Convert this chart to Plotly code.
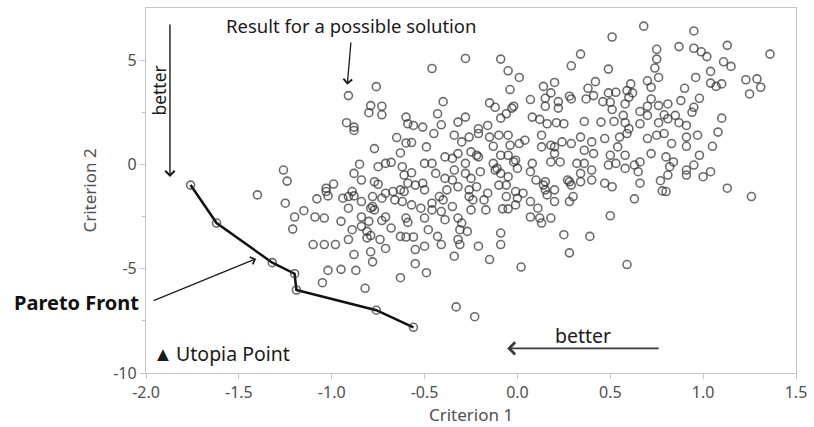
import plotly.graph_objects as go

# Candidate solutions: (criterion 1, criterion 2)
crit1 = [
    -0.91, -0.76, -0.79, -0.73, -0.80, -0.73, -0.92, -0.88, -0.60, -0.59, -0.56,
    -0.46, -0.28, -0.09, -0.05, 0.01, 0.34, 0.29, -0.04, 0.14, 0.20, -0.40, -0.43, -0.28, -0.32,
    -0.15, -0.12, -0.09, -0.06, -0.03, -0.02, 0.07, 0.15, 0.15, 0.18, 0.22, 0.22, 0.28, 0.29,
    0.38, 0.42, 0.41, 0.37, 0.08, 0.12, 0.16, 0.21, 0.25, 0.36, -0.41, -0.51, -0.16, -0.21,
    0.68, 0.51, 0.95, 0.87, 0.95, 0.99, 1.02, 1.13, 1.36, 0.75, 0.75, 0.74, 0.49, 0.76, 0.70,
    0.72, 0.61, 0.59, 0.62, 0.49, 0.53, 0.46, 0.50, 0.51, 0.58, 0.60, 0.72, 0.70, 0.76,
    0.81, 0.88, 0.90, 0.96, 1.04, 1.04, 1.07, 1.10, 1.11, 1.15, 1.23, 1.29, 1.31, 1.25, 0.98,
    0.95, 0.94, 1.10, 0.85, 0.81, 0.87, 0.91, 0.76, 0.79, 0.66, 0.70, 0.66, 0.57, 0.58, 0.52,
    0.45, 0.60,
    -0.88, -0.65, -0.60, -0.57, -0.77, -0.63, -1.26, -1.24, -1.40, -1.25, -0.85, -0.88, -0.75,
    -0.71, -0.68, -0.62, -0.57, -0.61, -0.84, -0.77, -0.75, -0.99, -1.03, -1.03, -1.08, -1.02,
    -0.94, -0.91, -0.89, -0.88, -0.91, -0.84, -0.78, -0.77, -0.78, -0.73, -0.71, -0.67, -0.63,
    -0.66, -0.62, -0.57, -0.59, -0.55, -1.15, -1.20, -1.09, -1.04, -0.95, -1.21, -0.84, -0.80,
    -0.73, -0.71, -0.68, -0.60, -0.59, -0.89, -0.84, -0.81, -0.79, -0.81, -0.91, -0.74, -0.63,
    -0.60, -0.56, -1.10, -1.04, -0.98,
    -0.49, -0.45, -0.34, -0.30, -0.26, -0.21, -0.15, -0.10, -0.05, -0.13, -0.04, 0.04, 0.01,
    0.13, 0.13, 0.18, 0.24, 0.29, 0.34, 0.40, 0.36, 0.41, -0.50, -0.46, -0.44, -0.39, -0.35,
    -0.32, -0.25, -0.21, -0.28, -0.34, -0.39, -0.51, -0.50, -0.35, -0.32, -0.38, -0.40, -0.25,
    -0.20, -0.22, -0.26, -0.24, -0.18, -0.17, -0.25, -0.13, -0.12, -0.09, -0.05, -0.01, 0.00,
    -0.09, -0.05, -0.10, -0.06, -0.01, 0.03, 0.00, -0.01, -0.08, -0.05, 0.08, 0.07, 0.10, 0.15,
    0.15, 0.20, 0.16, 0.20, 0.11, 0.07, 0.12, 0.18, 0.13, 0.20, 0.23, 0.18, 0.27, 0.29, 0.28,
    0.30, 0.34, 0.34, 0.32, 0.36, 0.40, 0.40, 0.25, 0.39, -0.09, -0.48, -0.43, -0.32, -0.30,
    -0.31, -0.27, -0.32, -0.50, -0.46, -0.41, -0.39, -0.52, -0.46,
    -0.22, -0.28, -0.11, -0.02, 0.20, 0.28, 0.14, -0.26, -0.16, -0.42, -0.35, -0.06, 0.07,
    -0.61, -0.79,
    0.47, 0.55, 0.59, 0.70, 0.75, 0.79, 0.83, 0.91, 0.97, 0.91, 1.05, 1.08, 0.54, 0.50, 0.58,
    0.49, 0.53, 0.58, 0.63, 0.66, 0.65, 0.72, 0.80, 0.82, 0.84, 0.81, 0.77, 0.66, 0.78, 0.80,
    0.91, 0.91, 0.95, 0.98, 1.00, 1.04, 0.47, 0.51, 0.63, 0.50, 1.13, 1.26,
    -0.88, -0.79, -0.78, -0.71, -1.02, -0.95, -0.87, -1.05, -0.82, -0.63, -0.55, -0.55,
    -0.50, -0.41, -0.31, -0.21, -0.09, -0.34, -0.15, 0.02, 0.28, -0.49, -0.33, -0.23, 0.59,
]
crit2 = [
    3.30, 3.73, 2.82, 2.79, 2.48, 2.38, 2.00, 1.79, 2.27, 1.95, 1.87,
    4.60, 5.08, 5.05, 4.49, 4.17, 5.29, 4.73, 3.59, 3.74, 3.93, 3.01, 2.43, 2.27, 2.03,
    2.95, 2.74, 2.22, 2.43, 2.70, 2.79, 3.11, 3.17, 2.79, 3.43, 3.01, 2.70, 3.27, 3.14,
    3.65, 3.97, 3.30, 3.14, 2.27, 2.16, 1.95, 2.00, 1.95, 2.06, 1.90, 1.79, 1.87, 1.71,
    6.63, 6.11, 6.40, 5.65, 5.57, 5.40, 5.17, 5.71, 5.29, 5.52, 5.05, 4.62, 4.57, 4.17, 4.01,
    3.70, 3.86, 3.54, 3.43, 3.43, 3.46, 3.01, 2.98, 2.63, 2.90, 3.22, 3.14, 2.79, 2.82,
    2.90, 3.06, 3.65, 4.17, 4.46, 3.90, 3.74, 3.86, 4.92, 4.70, 4.06, 4.10, 3.70, 3.38, 3.17,
    2.74, 2.50, 2.22, 2.35, 2.19, 2.00, 1.87, 2.00, 2.38, 2.54, 2.35, 1.95, 2.35, 2.00, 2.06,
    2.03, 1.71,
    1.63, 1.29, 1.03, 1.05, 0.76, 0.55, -0.27, -0.80, -1.46, -1.86, 0.01, -0.43, -0.11,
    0.05, 0.10, -0.11, -0.40, -0.51, -0.75, -0.83, -0.95, -0.94, -1.14, -1.30, -1.65, -1.51,
    -1.62, -1.54, -1.30, -1.51, -2.10, -1.78, -2.02, -2.18, -1.54, -1.62, -1.38, -1.30, -1.22,
    -1.70, -1.78, -1.94, -0.90, -0.99, -2.22, -2.52, -2.52, -2.57, -2.73, -3.10, -2.52, -2.73,
    -2.69, -2.52, -3.05, -2.57, -2.78, -3.13, -2.97, -3.21, -3.41, -3.52, -3.60, -3.60, -3.45,
    -3.48, -3.48, -3.84, -3.84, -3.84,
    0.84, 1.48, 1.40, 1.08, 1.31, 1.48, 1.31, 1.40, 1.40, 0.87, 0.92, 1.16, 1.00,
    1.40, 0.84, 0.92, 1.08, 1.00, 1.31, 1.08, 0.68, 0.52, 0.05, 0.05, -0.43, 0.36, 0.29,
    0.52, 0.60, 0.36, 0.05, -0.27, -0.67, -0.90, -1.22, -0.75, -1.07, -1.22, -1.70, -0.67,
    -0.35, -1.07, -1.54, -1.70, -1.70, -2.18, -2.18, 0.05, -0.27, 0.44, 0.44, 0.20, -0.19,
    -0.43, -0.59, -0.99, -0.99, -1.30, -1.38, -1.62, -1.94, -2.13, -2.13, 0.05, -0.35, -0.75, -0.83,
    -1.22, -1.22, -1.46, -1.78, -2.10, -2.52, -2.57, -2.57, -2.81, 0.52, 0.12, 0.12, -0.75, -0.99, -1.78,
    -1.54, -0.83, -0.43, 0.05, 0.05, -0.27, -0.75, -3.37, -3.45, -3.29, -3.13, -3.45, -2.57, -2.81,
    -3.13, -3.21, -3.60, -2.57, -2.18, -2.26, -2.65, -2.10, -1.86,
    0.44, -0.43, -0.19, 0.12, 0.84, -0.83, -0.99, -1.22, -1.38, -1.54, -2.02, -1.54, -1.78,
    -1.30, -2.10,
    1.24, 1.31, 1.48, 1.24, 1.40, 1.48, 1.00, 1.31, 1.40, 0.87, 0.87, 1.55, 0.84, 0.44, 0.44,
    -0.03, 0.05, -0.19, -0.03, 0.12, -0.35, 0.52, 0.36, -0.11, 0.12, -0.51, -0.78, -0.90, -1.27, -1.30,
    -0.27, -0.51, -0.03, 0.44, -0.59, -0.35, -0.90, -1.07, -1.65, -2.46, -1.14, -1.54,
    -4.32, -4.19, -4.67, -4.03, -5.08, -5.03, -5.08, -5.67, -5.94, -5.43, -4.08, -4.76,
    -3.92, -3.84, -3.84, -3.92, -3.84, -4.40, -4.56, -4.92, -4.24, -5.19, -6.83, -7.30, -4.80,
]

# Non-dominated solutions forming the Pareto front
pareto_c1 = [-1.76, -1.62, -1.32, -1.20, -1.19, -0.76, -0.56]
pareto_c2 = [-0.99, -2.81, -4.71, -5.24, -6.02, -6.99, -7.81]

x_ticks = [-2.0, -1.5, -1.0, -0.5, 0.0, 0.5, 1.0, 1.5]
x_labels = ["-2.0", "-1.5", "-1.0", "-0.5", "0.0", "0.5", "1.0", "1.5"]
y_ticks = [-10, -5, 0, 5]
y_labels = ["-10", "-5", "0", "5"]

FONT = "Noto Sans"
AXIS_GREY = "#505050"
circle = dict(symbol="circle-open", size=8, color="rgba(50,50,50,0.72)", line=dict(width=1.6))

fig = go.Figure()
fig.add_trace(go.Scatter(x=crit1, y=crit2, mode="markers", marker=circle,
                         showlegend=False, hoverinfo="x+y"))
fig.add_trace(go.Scatter(x=pareto_c1, y=pareto_c2, mode="lines+markers",
                         line=dict(color="#111111", width=2.5), marker=circle,
                         showlegend=False))

axis_common = dict(showgrid=False, zeroline=False, showline=True, mirror=True,
                   linecolor="#c4c4c4", linewidth=1.2, ticks="outside", ticklen=5,
                   tickcolor="#c4c4c4", tickfont=dict(family=FONT, size=16, color=AXIS_GREY))

fig.update_xaxes(range=[-2.0, 1.5], tickvals=x_ticks, ticktext=x_labels,
                 title=dict(text="Criterion 1", font=dict(family=FONT, size=17, color=AXIS_GREY),
                            standoff=0),
                 **axis_common)
fig.update_yaxes(range=[-10, 7.5], tickvals=y_ticks, ticktext=y_labels,
                 minor=dict(tickvals=[-7.5, -2.5, 2.5], ticks="outside", ticklen=3,
                            tickcolor="#c4c4c4"),
                 title=dict(text="Criterion 2", font=dict(family=FONT, size=17, color=AXIS_GREY),
                            standoff=12),
                 **axis_common)

text_font = dict(family=FONT, size=18.5, color="#1a1a1a")
arrow_common = dict(text="", showarrow=True, arrowhead=4, arrowsize=1.3,
                    xref="x", yref="y", axref="x", ayref="y")

annotations = [
    dict(x=-0.896, y=6.65, xref="x", yref="y", text="Result for a possible solution",
         showarrow=False, font=text_font),
    dict(x=-0.916, y=3.82, ax=-0.896, ay=5.92, arrowwidth=1.3, arrowcolor="#1a1a1a",
         **arrow_common),
    dict(x=-1.871, y=-0.60, ax=-1.871, ay=6.78, arrowwidth=1.4, arrowcolor="#1a1a1a",
         **arrow_common),
    dict(x=-1.93, y=3.54, xref="x", yref="y", text="better", textangle=-90,
         showarrow=False, font=dict(family=FONT, size=17.5, color="#1a1a1a")),
    dict(x=-1.407, y=-4.52, ax=-1.967, ay=-6.56, arrowwidth=1.2, arrowcolor="#1a1a1a",
         **arrow_common),
    dict(x=-0.008, y=0.194, xref="paper", yref="paper", xanchor="right", yanchor="middle",
         text="<b>Pareto Front</b>", showarrow=False,
         font=dict(family=FONT, size=20, color="#111111")),
    dict(x=-1.975, y=-9.08, xref="x", yref="y", xanchor="left", yanchor="middle",
         text="<span style='font-size:20px'>▲</span>\u2009Utopia Point",
         showarrow=False, font=dict(family=FONT, size=19.5, color="#1a1a1a")),
    dict(x=0.352, y=-8.22, xref="x", yref="y", text="better", showarrow=False,
         font=dict(family=FONT, size=19.5, color="#1a1a1a")),
    dict(x=-0.055, y=-8.82, ax=0.769, ay=-8.82, arrowwidth=1.8, arrowcolor="#3a3a3a",
         **arrow_common),
]

fig.update_layout(
    width=814, height=427,
    margin=dict(l=146, r=15, t=7, b=54),
    paper_bgcolor="white", plot_bgcolor="white",
    annotations=annotations,
    font=dict(family=FONT),
)

fig.write_html("out.html")
